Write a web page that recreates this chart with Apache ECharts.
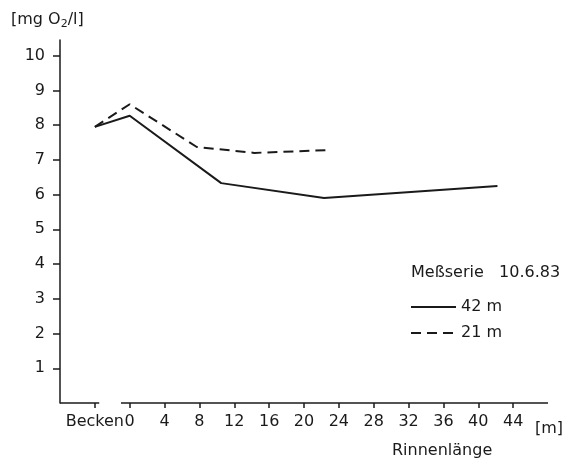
<!DOCTYPE html>
<html>
<head>
    <meta charset="utf-8"/>
    <title>Meßserie 10.6.83</title>
    <script src="https://cdn.jsdelivr.net/npm/echarts@6/dist/echarts.min.js"></script>
    <style>
        body { margin: 0; background: #fff; }
    </style>
</head>
<body>
<div id="main" style="width: 567px;height:459px;"></div>
<script type="text/javascript">
    // Achse: "Becken" sitzt links vom Nullpunkt der Rinne
    var xTicks = [-4, 0, 4, 8, 12, 16, 20, 24, 28, 32, 36, 40, 44];
    var xTickLabels = ['Becken', '0', '4', '8', '12', '16', '20', '24', '28', '32', '36', '40', '44'];
    var yTicks = [1, 2, 3, 4, 5, 6, 7, 8, 9, 10];

    // Meßserie 42 m
    var x42 = [-4, 0, 10.5, 22.3, 42.2];
    var y42 = [7.95, 8.27, 6.33, 5.9, 6.25];
    // Meßserie 21 m
    var x21 = [-4, 0, 7.7, 14.3, 22.7];
    var y21 = [7.95, 8.6, 7.37, 7.2, 7.28];

    // die Achsenlinie ist zwischen Becken und 0 unterbrochen
    var axisPartBecken = [-8, -3.5];
    var axisPartRinne = [-1, 48];

    function pairs(xs, ys) {
        var out = [];
        for (var i = 0; i < xs.length; i++) out.push([xs[i], ys[i]]);
        return out;
    }

    var font = 'DejaVu Sans';
    var ink = '#1a1a1a';
    var fs = 16;

    var myChart = echarts.init(document.getElementById('main'));
    var option = {
        animation: false,
        textStyle: { fontFamily: font, color: ink },
        title: [
            {
                text: '[mg O{s|2}/l]',
                left: 6, top: 5,
                textStyle: {
                    fontFamily: font, fontSize: fs, fontWeight: 'normal', color: ink,
                    rich: { s: { fontSize: 11, verticalAlign: 'bottom', padding: [9, 0, 0, 0], fontFamily: font, color: ink } }
                }
            },
            {
                text: 'Meßserie   10.6.83',
                left: 406, top: 260,
                textStyle: { fontFamily: font, fontSize: fs, fontWeight: 'normal', color: ink }
            },
            {
                text: '[m]',
                left: 530, top: 416,
                textStyle: { fontFamily: font, fontSize: fs, fontWeight: 'normal', color: ink }
            },
            {
                text: 'Rinnenlänge',
                left: 387, top: 438,
                textStyle: { fontFamily: font, fontSize: fs, fontWeight: 'normal', color: ink }
            }
        ],
        legend: {
            data: ['42 m', '21 m'],
            orient: 'vertical',
            left: 405, top: 294,
            itemWidth: 45, itemHeight: 16, itemGap: 10,
            itemStyle: { opacity: 0 },
            textStyle: { fontFamily: font, fontSize: fs, color: ink }
        },
        grid: { left: 60, right: 19, top: 40, bottom: 56 },
        xAxis: {
            type: 'value',
            min: -8, max: 48, interval: 4,
            splitLine: { show: false },
            axisLine: { show: false },
            axisTick: {
                show: true, length: 5, customValues: xTicks,
                lineStyle: { color: ink, width: 1.5 }
            },
            axisLabel: {
                customValues: xTicks,
                margin: 11, fontSize: fs, color: ink, fontFamily: font,
                formatter: function (v) {
                    var i = xTicks.indexOf(v);
                    return i < 0 ? '' : xTickLabels[i];
                }
            }
        },
        yAxis: {
            type: 'value',
            min: 0, max: 10.45, interval: 1,
            splitLine: { show: false },
            axisLine: { show: true, onZero: false, lineStyle: { color: ink, width: 1.5 } },
            axisTick: {
                show: true, length: 7, customValues: yTicks,
                lineStyle: { color: ink, width: 1.5 }
            },
            axisLabel: {
                customValues: yTicks,
                margin: 15, fontSize: fs, color: ink, fontFamily: font
            }
        },
        series: [
            {
                name: 'achse1', type: 'line', symbol: 'none', clip: false, silent: true,
                data: [[axisPartBecken[0], 0], [axisPartBecken[1], 0]],
                lineStyle: { color: ink, width: 1.5 }
            },
            {
                name: 'achse2', type: 'line', symbol: 'none', clip: false, silent: true,
                data: [[axisPartRinne[0], 0], [axisPartRinne[1], 0]],
                lineStyle: { color: ink, width: 1.5 }
            },
            {
                name: '42 m', type: 'line', symbol: 'none',
                data: pairs(x42, y42),
                lineStyle: { color: ink, width: 2 },
                itemStyle: { color: ink }
            },
            {
                name: '21 m', type: 'line', symbol: 'none',
                data: pairs(x21, y21),
                lineStyle: { color: ink, width: 2, type: [10, 6] },
                itemStyle: { color: ink }
            }
        ]
    };
    myChart.setOption(option);
</script>
</body>
</html>
